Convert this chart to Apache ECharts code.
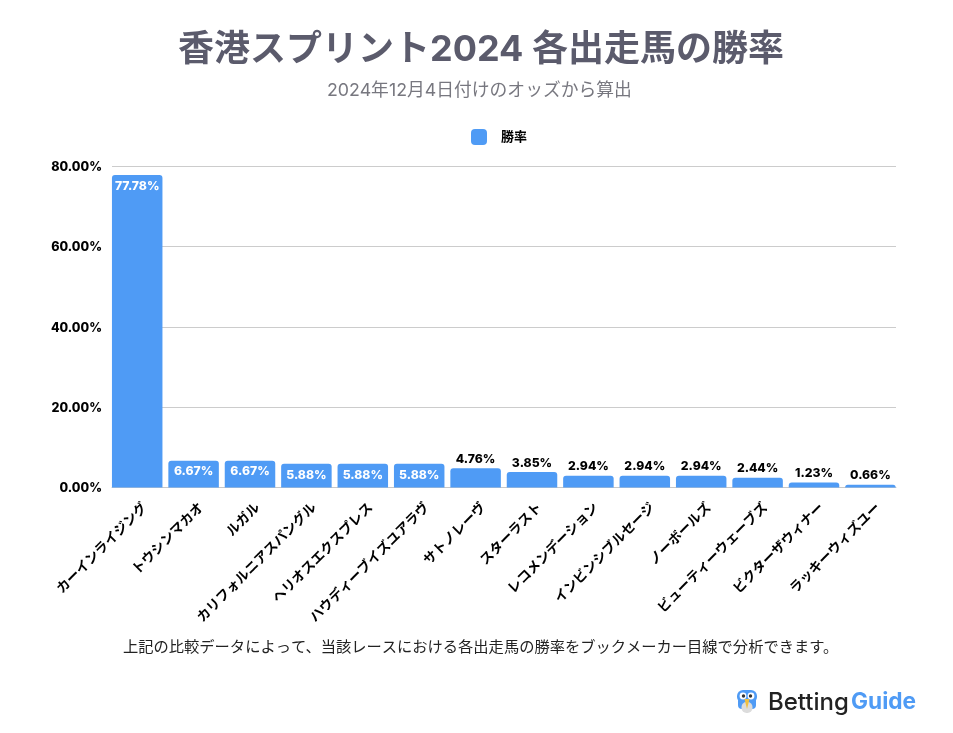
<!DOCTYPE html>
<html>
<head>
<meta charset="utf-8">
<script src="https://cdn.jsdelivr.net/npm/echarts@6/dist/echarts.min.js"></script>
<style>
html,body{margin:0;padding:0;background:#fff}
#main{width:953px;height:733px}
</style>
</head>
<body>
<div id="main"></div>
<script>
var FONT = 'Inter, "Noto Sans CJK JP", sans-serif';
var horses = ['カーインライジング','トウシンマカオ','ルガル','カリフォルニアスパングル','ヘリオスエクスプレス','ハウディーブイズユアラヴ','サトノレーヴ','スターラスト','レコメンデーション','インビンシブルセージ','ノーボールズ','ビューティーウェーブズ','ビクターザウィナー','ラッキーウィズユー'];
var winRates = [77.78,6.67,6.67,5.88,5.88,5.88,4.76,3.85,2.94,2.94,2.94,2.44,1.23,0.66];
var seriesName = '勝率';
var insideMin = 5;

var myChart = echarts.init(document.getElementById('main'));

var barData = winRates.map(function(v){
    var inside = v > insideMin;
    return {
        value: v,
        label: {
            position: inside ? 'insideTop' : 'top',
            color: inside ? '#ffffff' : '#000000',
            distance: inside ? 5 : 3
        }
    };
});

var option = {
    animation: false,
    backgroundColor: '#ffffff',
    title: [{
        text: '香港スプリント2024 各出走馬の勝率',
        left: 173, top: 27,
        textStyle: {fontFamily: FONT, fontSize: 36, fontWeight: 700, color: '#5b5b6c'}
    },{
        text: '2024年12月4日付けのオッズから算出',
        left: 322, top: 77,
        textStyle: {fontFamily: FONT, fontSize: 17.8, fontWeight: 400, color: '#77777f'}
    },{
        text: '上記の比較データによって、当該レースにおける各出走馬の勝率をブックメーカー目線で分析できます。',
        left: 118, top: 635,
        textStyle: {fontFamily: FONT, fontSize: 15.27, fontWeight: 400, color: '#222222'}
    }],
    legend: {
        top: 124, left: 466,
        itemWidth: 16, itemHeight: 16,
        data: [seriesName],
        textStyle: {fontFamily: FONT, fontSize: 13, fontWeight: 700, color: '#000', padding: [0,0,0,9]}
    },
    // grid 0 holds the bars, grid 1 the y axis and gridlines (bars run flush to the line ends)
    grid: [
        {left: 109, top: 166, width: 789.6, height: 321.5},
        {left: 112, top: 166, width: 784, height: 321.5}
    ],
    xAxis: [{
        type: 'category',
        gridIndex: 0,
        data: horses,
        axisTick: {show: false},
        axisLine: {show: false},
        axisLabel: {
            interval: 0, rotate: 45, margin: 10, align: 'right', verticalAlign: 'top', lineHeight: 22,
            fontFamily: FONT, fontSize: 13.5, fontWeight: 700, color: '#000'
        }
    },{
        type: 'category',
        gridIndex: 1,
        data: horses,
        axisTick: {show: false},
        axisLabel: {show: false},
        axisLine: {lineStyle: {color: '#c8c8c8', width: 1}}
    }],
    yAxis: [{
        type: 'value', gridIndex: 0, min: 0, max: 80, interval: 20,
        axisLine: {show: false},
        axisTick: {show: false},
        splitLine: {show: false},
        axisLabel: {show: false}
    },{
        type: 'value', gridIndex: 1, min: 0, max: 80, interval: 20,
        axisLine: {show: false},
        axisTick: {show: false},
        splitLine: {lineStyle: {color: '#cccccc', width: 1}},
        axisLabel: {
            margin: 10,
            verticalAlign: 'top', lineHeight: 2,
            fontFamily: FONT, fontSize: 12.5, fontWeight: 800, color: '#000',
            formatter: function(v){ return v.toFixed(2) + '%'; }
        }
    }],
    series: [{
        name: seriesName,
        type: 'bar',
        xAxisIndex: 0,
        yAxisIndex: 0,
        z: 3,
        data: barData,
        barWidth: 50.5,
        itemStyle: {color: '#4f9bf5', borderRadius: [3,3,0,0]},
        label: {
            show: true,
            fontFamily: FONT, fontSize: 12.2, fontWeight: 800,
            formatter: function(p){ return p.value.toFixed(2) + '%'; }
        }
    }],
    graphic: [
        // logo
        {type: 'rect', shape: {x: 738, y: 697, width: 18, height: 12, r: 4}, style: {fill: '#4f9bf5'}},
        {type: 'rect', shape: {x: 737, y: 690, width: 20, height: 13, r: 6}, style: {fill: '#4f9bf5'}},
        {type: 'rect', shape: {x: 741.5, y: 702, width: 11, height: 11, r: 5}, style: {fill: '#dcdcdc'}},
        {type: 'circle', shape: {cx: 743, cy: 696, r: 3.4}, style: {fill: '#fff'}},
        {type: 'circle', shape: {cx: 751, cy: 696, r: 3.4}, style: {fill: '#fff'}},
        {type: 'circle', shape: {cx: 743.5, cy: 696, r: 1.7}, style: {fill: '#333'}},
        {type: 'circle', shape: {cx: 750.5, cy: 696, r: 1.7}, style: {fill: '#333'}},
        {type: 'polygon', shape: {points: [[744.5,699],[749.5,699],[747,709]]}, style: {fill: '#f0c040'}},
        {type: 'text', left: 768, top: 691, style: {
            text: 'Betting', fontFamily: FONT, fontSize: 24, fontWeight: 500, fill: '#222'
        }},
        {type: 'text', left: 851, top: 691, style: {
            text: 'Guide', fontFamily: FONT, fontSize: 22.7, fontWeight: 700, fill: '#4f9bf5'
        }}
    ]
};
myChart.setOption(option);
</script>
</body>
</html>
